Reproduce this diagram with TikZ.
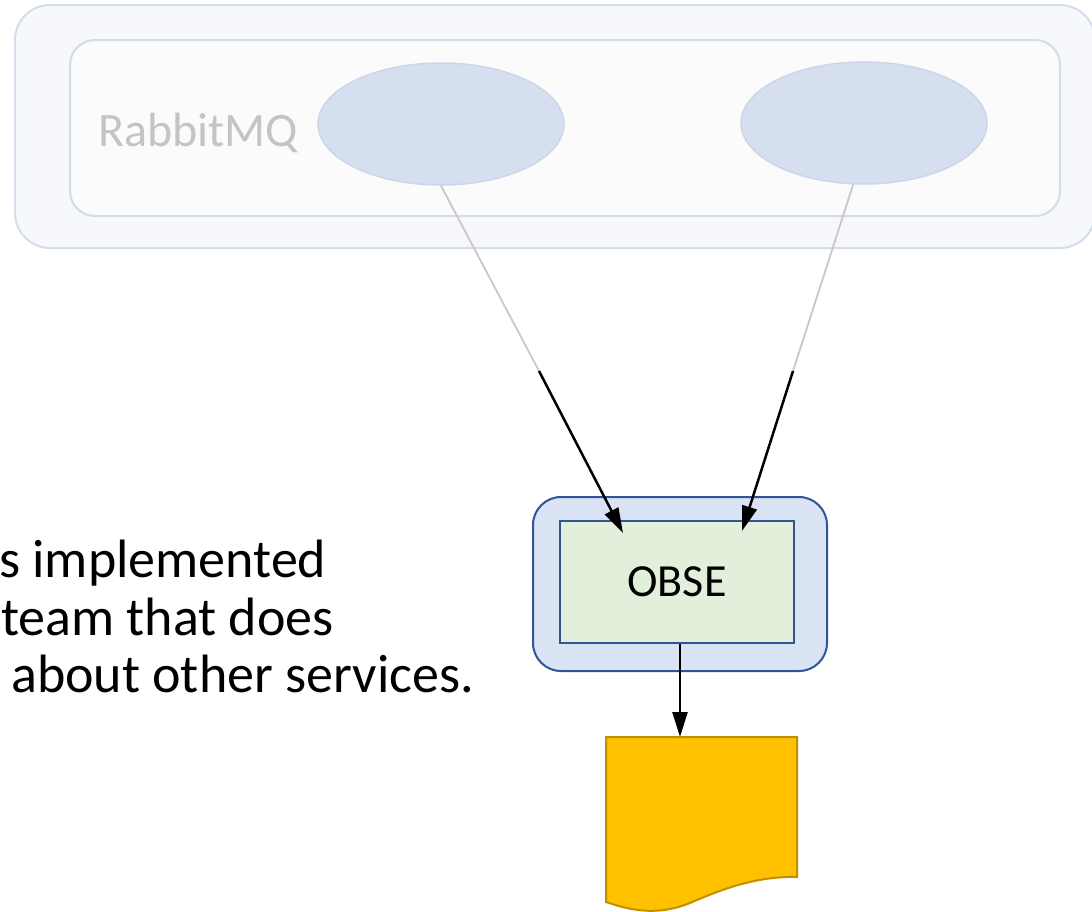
\documentclass[tikz,border=0pt]{standalone}
\usepackage{fontspec}
\setmainfont{Carlito}
\usetikzlibrary{arrows.meta,shapes.geometric}

\definecolor{busFill}{HTML}{F6F8FC}
\definecolor{busLine}{HTML}{D5DDEC}
\definecolor{mqFill}{HTML}{FBFBFB}
\definecolor{mqLine}{HTML}{D3DCEA}
\definecolor{queueFill}{HTML}{D6DFF0}
\definecolor{queueLine}{HTML}{CCD6E8}
\definecolor{fadedText}{HTML}{C4C4C4}
\definecolor{fadedLink}{HTML}{C8C8C8}
\definecolor{svcFill}{HTML}{DAE3F3}
\definecolor{svcLine}{HTML}{2F5597}
\definecolor{coreFill}{HTML}{E2EFDA}
\definecolor{docFill}{HTML}{FFC000}
\definecolor{docLine}{HTML}{BF9000}

\tikzset{
  busbox/.style={draw=busLine, fill=busFill, line width=2pt, inner sep=0pt},
  mqbox/.style={draw=mqLine, fill=mqFill, line width=2pt, inner sep=0pt},
  queue/.style={ellipse, draw=queueLine, fill=queueFill, line width=1.5pt,
    minimum width=246pt, minimum height=122pt, inner sep=0pt},
  fadedlabel/.style={text=fadedText, anchor=base west, inner sep=0pt,
    font=\fontsize{48}{52}\selectfont},
  fadedline/.style={draw=fadedLink, line width=1.8pt},
  flow/.style={draw=black, line width=2.5pt,
    -{Triangle[length=25pt,width=15pt]}},
  svcbox/.style={draw=svcLine, fill=svcFill, line width=2pt,
    rounded corners=28pt, inner sep=0pt},
  corebox/.style={draw=svcLine, fill=coreFill, line width=2pt, inner sep=0pt,
    font=\fontsize{46}{50}\selectfont},
  docshape/.style={draw=docLine, fill=docFill, line width=2pt},
  note/.style={anchor=base west, inner sep=0pt, font=\fontsize{54}{58}\selectfont}
}

\begin{document}
\begin{tikzpicture}[x=1pt, y=-1pt]
  \useasboundingbox (0,0) rectangle (1092,911);
  \fill[white] (0,0) rectangle (1092,911);
  \clip (0,0) rectangle (1092,911);

  % message broker cluster
  \node[busbox, minimum width=1080pt, minimum height=243pt,
        rounded corners=35pt] (bus) at (555,126.5) {};
  \node[mqbox, minimum width=990pt, minimum height=176pt,
        rounded corners=25pt] (mq) at (565,128) {};
  \node[fadedlabel] (mqlabel) at (98,146) {RabbitMQ};
  \node[queue] (q1) at (441,124) {};
  \node[queue] (q2) at (864,123) {};

  % explanatory note
  \node[note] (l1) at (-1,577) {s implemented};
  \node[note] (l2) at (1,635) {team that does};
  \node[note] (l3) at (11,692) {about other services.};

  % service
  \node[svcbox, minimum width=294pt, minimum height=174pt] (svc) at (680,584) {};
  \node[corebox, minimum width=234pt, minimum height=122pt] (core) at (677,582) {OBSE};

  % output document
  \draw[docshape] (606,737) -- (797,737) -- (797,877)
    .. controls (755,876) and (720,890) .. (690,903)
    .. controls (660,915) and (635,912) .. (606,902) -- cycle;
  \coordinate (docTop) at (680,737);

  % subscriptions: faded near the broker, solid near the service
  \coordinate (b1) at (539,371);
  \coordinate (t1) at (623,533);
  \coordinate (b2) at (793,371);
  \coordinate (t2) at (742,531);
  \draw[fadedline] (q1.south) -- (b1);
  \draw[flow] (b1) -- (t1);
  \draw[fadedline] (q2.-100) -- (b2);
  \draw[flow] (b2) -- (t2);

  % service writes the document
  \draw[flow] (core.south -| docTop) -- (docTop);
\end{tikzpicture}
\end{document}
